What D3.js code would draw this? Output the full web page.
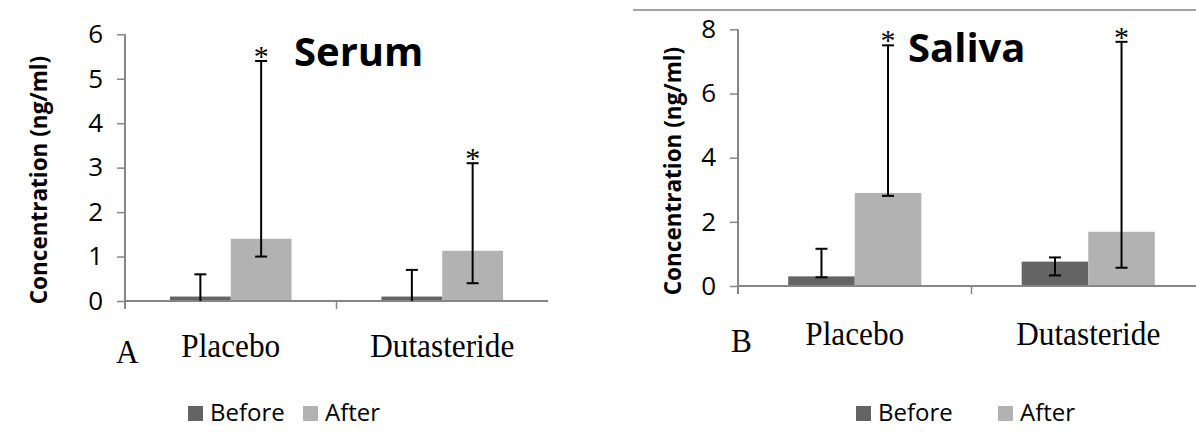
<!DOCTYPE html>
<html>
<head>
<meta charset="utf-8">
<script src="https://cdn.jsdelivr.net/npm/d3@7"></script>
<style>
  html, body { margin: 0; padding: 0; background: #fff; }
  svg { display: block; }
</style>
</head>
<body>
<svg id="chart" width="1196" height="433"></svg>
<script>
// ---------- data ----------
const categories = ["Placebo", "Dutasteride"];
const seriesNames = ["Before", "After"];

// Serum (panel A)
const serumBefore = [0.1, 0.1];
const serumAfter = [1.4, 1.13];
const serumBeforeLow = [0, 0];
const serumBeforeHigh = [0.6, 0.7];
const serumAfterLow = [1.0, 0.4];
const serumAfterHigh = [5.4, 3.1];
const serumTicks = [0, 1, 2, 3, 4, 5, 6];

// Saliva (panel B)
const salivaBefore = [0.3, 0.76];
const salivaAfter = [2.9, 1.69];
const salivaBeforeLow = [0.27, 0.33];
const salivaBeforeHigh = [1.16, 0.89];
const salivaAfterLow = [2.81, 0.57];
const salivaAfterHigh = [7.5, 7.61];
const salivaTicks = [0, 2, 4, 6, 8];

// significance markers (After series)
const serumStars = [true, true];
const salivaStars = [true, true];

// ---------- styles ----------
const colors = { Before: "#646464", After: "#b2b2b2" };
const axisColor = "#868686";
const SANS = "'Open Sans', 'DejaVu Sans', sans-serif";
const SERIF = "'Liberation Serif', 'DejaVu Serif', serif";

const svg = d3.select("#chart");

function drawPanel(p) {
  const g = svg.append("g");
  const y = d3.scaleLinear().domain([0, p.yMax]).range([p.y0, p.y1]);
  const x = d3.scaleBand().domain(categories).range([p.x0, p.x1]).padding(0);
  const xs = d3.scaleBand().domain(seriesNames).range([0, x.bandwidth()])
    .paddingInner(0).paddingOuter(p.outer);

  const rows = [];
  categories.forEach((c, i) => {
    rows.push({ cat: c, s: "Before", v: p.before[i], lo: p.beforeLow[i], hi: p.beforeHigh[i], star: false });
    rows.push({ cat: c, s: "After", v: p.after[i], lo: p.afterLow[i], hi: p.afterHigh[i], star: p.stars[i] });
  });

  // bars
  g.selectAll("rect.bar").data(rows).enter().append("rect")
    .attr("class", "bar")
    .attr("x", d => x(d.cat) + xs(d.s))
    .attr("width", xs.bandwidth())
    .attr("y", d => y(d.v))
    .attr("height", d => y(0) - y(d.v))
    .attr("fill", d => colors[d.s]);

  // y axis
  const yAxis = d3.axisLeft(y).tickValues(p.ticks).tickSize(8).tickPadding(14)
    .tickFormat(d3.format("d"));
  const ya = g.append("g").attr("transform", `translate(${p.x0},0)`).call(yAxis);
  ya.select(".domain").remove();
  ya.selectAll(".tick line").attr("stroke", axisColor).attr("stroke-width", 1.5);
  ya.selectAll(".tick text").attr("font-family", SANS).attr("font-size", 26)
    .attr("fill", "#000");
  g.append("line").attr("x1", p.x0).attr("x2", p.x0)
    .attr("y1", y(p.yMax)).attr("y2", y(0) + 8)
    .attr("stroke", axisColor).attr("stroke-width", 2);

  // x axis
  g.append("line").attr("x1", p.x0).attr("x2", p.x1)
    .attr("y1", y(0)).attr("y2", y(0))
    .attr("stroke", axisColor).attr("stroke-width", 2);
  categories.slice(1).forEach(c => {
    g.append("line").attr("x1", x(c)).attr("x2", x(c))
      .attr("y1", y(0)).attr("y2", y(0) + 8)
      .attr("stroke", axisColor).attr("stroke-width", 1.5);
  });

  // error bars
  const cap = 6;
  rows.forEach(d => {
    const cx = x(d.cat) + xs(d.s) + xs.bandwidth() / 2;
    g.append("line").attr("x1", cx).attr("x2", cx)
      .attr("y1", y(d.lo)).attr("y2", y(d.hi))
      .attr("stroke", "#000").attr("stroke-width", 2);
    g.append("line").attr("x1", cx - cap).attr("x2", cx + cap)
      .attr("y1", y(d.hi)).attr("y2", y(d.hi))
      .attr("stroke", "#000").attr("stroke-width", 2);
    if (d.lo > 0) {
      g.append("line").attr("x1", cx - cap).attr("x2", cx + cap)
        .attr("y1", y(d.lo)).attr("y2", y(d.lo))
        .attr("stroke", "#000").attr("stroke-width", 2);
    }
    if (d.star) {
      g.append("text").attr("x", cx).attr("y", y(d.hi) + 5)
        .attr("text-anchor", "middle").attr("font-family", SERIF)
        .attr("font-size", 30).text("*");
    }
  });

  // category labels
  g.selectAll("text.cat").data(categories).enter().append("text")
    .attr("class", "cat")
    .attr("transform", c => `translate(${x(c) + x.bandwidth() / 2},${p.catY}) scale(0.92,1)`)
    .attr("text-anchor", "middle")
    .attr("font-family", SERIF).attr("font-size", 34)
    .text(c => c);
  g.append("text")
    .attr("transform", `translate(${p.letterX},${p.letterY}) scale(0.92,1)`)
    .attr("font-family", SERIF).attr("font-size", 34).text(p.letter);

  // y title
  g.append("text")
    .attr("transform", `translate(${p.titleX},${p.titleY}) rotate(-90)`)
    .attr("text-anchor", "middle")
    .attr("font-family", SANS).attr("font-weight", "bold").attr("font-size", 22.5)
    .text("Concentration (ng/ml)");

  // panel title
  g.append("text").attr("x", p.headX).attr("y", p.headY)
    .attr("font-family", SANS).attr("font-weight", "bold").attr("font-size", 40)
    .text(p.head);

  // legend
  const lg = g.append("g");
  p.legend.forEach((L, i) => {
    lg.append("rect").attr("x", L.x).attr("y", p.legY - 15).attr("width", 15).attr("height", 15)
      .attr("fill", colors[seriesNames[i]]);
    lg.append("text").attr("x", L.x + 22).attr("y", p.legY)
      .attr("font-family", SANS).attr("font-size", 24).text(seriesNames[i]);
  });
}

drawPanel({
  x0: 125, x1: 548, y0: 301, y1: 34.3, yMax: 6, ticks: serumTicks, outer: 0.74,
  before: serumBefore, after: serumAfter,
  beforeLow: serumBeforeLow, beforeHigh: serumBeforeHigh,
  afterLow: serumAfterLow, afterHigh: serumAfterHigh, stars: serumStars,
  catY: 357, letter: "A", letterX: 116, letterY: 363,
  titleX: 47, titleY: 180, head: "Serum", headX: 294, headY: 66,
  legY: 421, legend: [{ x: 188 }, { x: 303 }]
});

drawPanel({
  x0: 738, x1: 1205, y0: 286, y1: 29.3, yMax: 8, ticks: salivaTicks, outer: 0.754,
  before: salivaBefore, after: salivaAfter,
  beforeLow: salivaBeforeLow, beforeHigh: salivaBeforeHigh,
  afterLow: salivaAfterLow, afterHigh: salivaAfterHigh, stars: salivaStars,
  catY: 345, letter: "B", letterX: 731, letterY: 352,
  titleX: 681, titleY: 171, head: "Saliva", headX: 908, headY: 62,
  legY: 421, legend: [{ x: 856 }, { x: 998 }]
});

// top rule above panel B
svg.append("line").attr("x1", 633).attr("x2", 1196).attr("y1", 10).attr("y2", 10)
  .attr("stroke", axisColor).attr("stroke-width", 1.5);
</script>
</body>
</html>
